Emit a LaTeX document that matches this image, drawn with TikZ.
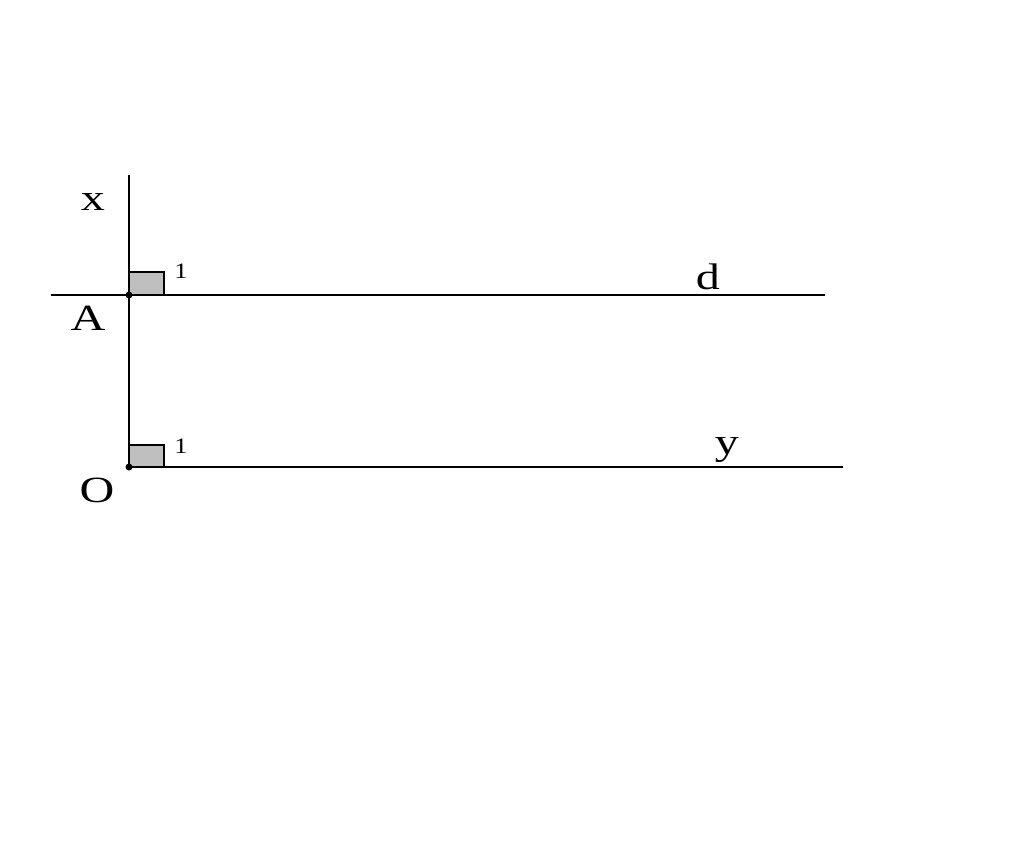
\documentclass[tikz,border=0pt]{standalone}
\usepackage{fontspec}
\setmainfont{Liberation Serif}
\begin{document}
\begin{tikzpicture}[x=1pt,y=-1pt,
  ln/.style={line width=2.5pt},
  lbl/.style={font=\fontsize{37}{40}\selectfont, xscale=1.3, inner sep=0pt},
  small/.style={font=\fontsize{22}{24}\selectfont, xscale=1.2, inner sep=0pt},
  ra/.style={draw, line width=2.5pt, fill=black!25}]
\useasboundingbox (0,0) rectangle (1024,854);
\coordinate (A) at (129,295);
\coordinate (O) at (129,467);
\coordinate (xt) at (129,175);
\coordinate (dl) at (51,295);
\coordinate (dr) at (825,295);
\coordinate (yr) at (843,467);
\draw[ra] (A) rectangle (164,272);
\draw[ra] (O) rectangle (164,445);
\draw[ln] (xt) -- (O);
\draw[ln] (dl) -- (dr);
\draw[ln] (O) -- (yr);
\fill (A) circle (3.5);
\fill (O) circle (3.5);
\node[lbl] (lx) at (93,202) {x};
\node[lbl] (lA) at (88,318) {A};
\node[lbl] (lO) at (97,490) {O};
\node[lbl] (ld) at (708,277) {d};
\node[lbl] (ly) at (727,450) {y};
\node[small] (n1) at (181,271) {1};
\node[small] (n2) at (181,446) {1};
\end{tikzpicture}
\end{document}
